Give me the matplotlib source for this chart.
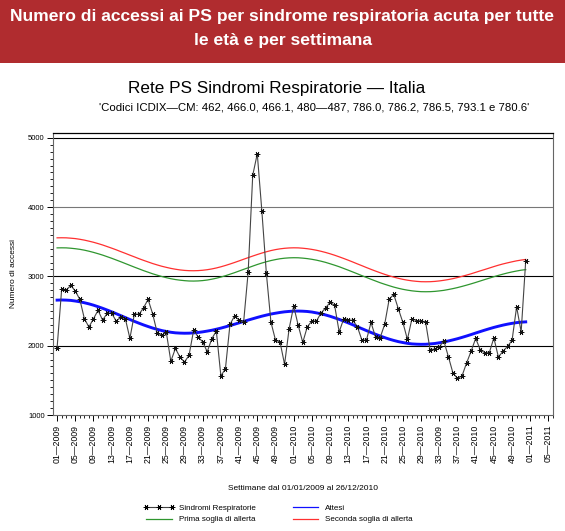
import matplotlib
matplotlib.use("Agg")
import matplotlib.pyplot as plt
from matplotlib.patches import Rectangle
from matplotlib.lines import Line2D
from matplotlib.ticker import MultipleLocator, FixedLocator

plt.rcParams['font.family'] = ['Liberation Sans', 'DejaVu Sans']

# weekly counts, week 01-2009 .. week 52-2010
sindromi = [1971, 2812, 2803, 2870, 2790, 2668, 2389, 2270, 2390, 2510,
            2370, 2466, 2466, 2356, 2413, 2390, 2106, 2461, 2452, 2548,
            2668, 2461, 2188, 2149, 2197, 1775, 1960, 1837, 1764, 1861,
            2221, 2130, 2053, 1913, 2101, 2212, 1563, 1668, 2308, 2428,
            2370, 2341, 3065, 4460, 4770, 3950, 3043, 2341, 2082, 2053,
            1731, 2245, 2572, 2293, 2048, 2274, 2356, 2356, 2470, 2545,
            2625, 2582, 2200, 2389, 2375, 2365, 2274, 2080, 2082, 2336,
            2122, 2115, 2308, 2673, 2740, 2534, 2336, 2091, 2391, 2360,
            2360, 2341, 1935, 1955, 1981, 2070, 1843, 1608, 1528, 1564,
            1750, 1920, 2105, 1945, 1896, 1900, 2113, 1836, 1920, 1990,
            2077, 2561, 2200, 3222]

attesi = [2658, 2660, 2658, 2654, 2645, 2634, 2620, 2604, 2585, 2563,
          2540, 2515, 2489, 2462, 2434, 2406, 2378, 2351, 2325, 2300,
          2277, 2255, 2236, 2219, 2206, 2194, 2186, 2182, 2180, 2181,
          2185, 2191, 2200, 2211, 2223, 2238, 2254, 2272, 2291, 2310,
          2330, 2350, 2370, 2389, 2408, 2426, 2442, 2457, 2469, 2480,
          2489, 2495, 2499, 2500, 2498, 2494, 2486, 2474, 2461, 2444,
          2425, 2403, 2380, 2355, 2329, 2302, 2274, 2246, 2218, 2191,
          2165, 2140, 2117, 2095, 2076, 2059, 2046, 2034, 2026, 2022,
          2020, 2021, 2026, 2032, 2042, 2054, 2068, 2084, 2101, 2120,
          2140, 2161, 2183, 2204, 2225, 2245, 2264, 2281, 2297, 2311,
          2323, 2333, 2340, 2344]

prima_soglia = [3412, 3413, 3412, 3407, 3400, 3391, 3379, 3364, 3347, 3328,
                3308, 3285, 3262, 3237, 3212, 3186, 3160, 3134, 3109, 3084,
                3061, 3038, 3018, 2999, 2982, 2967, 2955, 2946, 2939, 2934,
                2933, 2935, 2940, 2948, 2960, 2974, 2991, 3010, 3032, 3054,
                3078, 3102, 3125, 3149, 3172, 3193, 3212, 3229, 3243, 3255,
                3263, 3268, 3270, 3269, 3264, 3257, 3247, 3235, 3220, 3203,
                3183, 3162, 3140, 3115, 3090, 3064, 3038, 3011, 2985, 2959,
                2934, 2909, 2887, 2866, 2846, 2829, 2814, 2802, 2792, 2785,
                2780, 2779, 2780, 2784, 2791, 2799, 2811, 2824, 2839, 2856,
                2874, 2893, 2913, 2934, 2955, 2975, 2996, 3015, 3033, 3050,
                3065, 3078, 3090, 3098]

seconda_soglia = [3557, 3558, 3557, 3552, 3546, 3536, 3524, 3509, 3493, 3474,
                  3454, 3431, 3408, 3384, 3358, 3333, 3307, 3282, 3256, 3232,
                  3209, 3186, 3166, 3147, 3131, 3116, 3104, 3094, 3087, 3083,
                  3082, 3084, 3089, 3097, 3108, 3122, 3139, 3158, 3179, 3201,
                  3224, 3248, 3271, 3294, 3316, 3337, 3356, 3373, 3387, 3398,
                  3406, 3411, 3413, 3412, 3407, 3400, 3390, 3378, 3363, 3346,
                  3327, 3306, 3283, 3259, 3234, 3208, 3181, 3155, 3128, 3102,
                  3077, 3053, 3030, 3009, 2990, 2973, 2958, 2946, 2936, 2929,
                  2924, 2923, 2924, 2928, 2935, 2944, 2955, 2968, 2984, 3001,
                  3019, 3038, 3059, 3080, 3100, 3121, 3142, 3162, 3180, 3196,
                  3211, 3225, 3236, 3245]

tick_labels = ['01—2009', '05—2009', '09—2009', '13—2009', '17—2009', '21—2009',
               '25—2009', '29—2009', '33—2009', '37—2009', '41—2009', '45—2009',
               '49—2009', '01—2010', '05—2010', '09—2010', '13—2010', '17—2010',
               '21—2010', '25—2010', '29—2010', '33—2009', '37—2010', '41—2010',
               '45—2010', '49—2010', '01—2011', '05—2011']

W, H = 565, 531
fig = plt.figure(figsize=(W / 100, H / 100), dpi=100)

# red header band
fig.patches.append(Rectangle((0, 1 - 63 / H), 1, 63 / H, transform=fig.transFigure,
                             facecolor='#b02c2f', edgecolor='none', zorder=0))
fig.text(0.5, 1 - 17 / H, 'Numero di accessi ai PS per sindrome respiratoria acuta per tutte',
         ha='center', va='center', color='white', fontsize=12.6, fontweight='bold')
fig.text(0.5, 1 - 40 / H, 'le età e per settimana',
         ha='center', va='center', color='white', fontsize=12.6, fontweight='bold')

fig.text(277 / W, 1 - 88 / H, 'Rete PS Sindromi Respiratorie — Italia',
         ha='center', va='center', fontsize=12.3)
fig.text(314 / W, 1 - 107 / H,
         "'Codici ICDIX—CM: 462, 466.0, 466.1, 480—487, 786.0, 786.2, 786.5, 793.1 e 780.6'",
         ha='center', va='center', fontsize=8.2)

ax = fig.add_axes([53 / W, 1 - 415 / H, 500 / W, 282 / H])
weeks = list(range(len(sindromi)))

ax.plot(weeks, prima_soglia, color='#2f962f', lw=0.9, zorder=3)
ax.plot(weeks, seconda_soglia, color='#ff3030', lw=0.9, zorder=3)
ax.plot(weeks, attesi, color='#1010ff', lw=2.1, zorder=4)
ax.plot(weeks, sindromi, color='#444444', lw=0.8, marker=(6, 2, 90),
        markersize=4, markeredgewidth=0.55, markeredgecolor='#111111', zorder=5)

for v, c in [(2000, 'black'), (3000, 'black'), (4000, '#777777'), (5000, 'black')]:
    ax.axhline(v, color=c, lw=0.8, zorder=1)

ax.set_xlim(-0.9, 109)
ax.set_ylim(1000, 5070)
ax.xaxis.set_major_locator(FixedLocator(list(range(0, 109, 4))))
ax.xaxis.set_minor_locator(MultipleLocator(1))
ax.set_xticklabels(tick_labels, rotation=90, fontsize=6.3)
ax.yaxis.set_major_locator(MultipleLocator(1000))
ax.yaxis.set_minor_locator(MultipleLocator(100))
ax.tick_params(axis='y', labelsize=5.5, length=4, width=0.7, pad=2)
ax.tick_params(axis='x', length=4, width=0.7, pad=3)
ax.tick_params(which='minor', length=2, width=0.6)
for s in ['left', 'bottom', 'right']:
    ax.spines[s].set_color('#666666')
    ax.spines[s].set_linewidth(0.8)
ax.spines['top'].set_color('black')
ax.spines['top'].set_linewidth(0.9)

ax.set_ylabel('Numero di accessi', fontsize=6, labelpad=8)
fig.text(303 / W, 1 - 488 / H, 'Settimane dal 01/01/2009 al 26/12/2010',
         ha='center', va='center', fontsize=6)

handles = [
    Line2D([], [], color='#444444', lw=0.8, marker=(6, 2, 90), markersize=4,
           markeredgewidth=0.6, markeredgecolor='black'),
    Line2D([], [], color='#2f962f', lw=0.9),
    Line2D([], [], color='#1010ff', lw=0.9),
    Line2D([], [], color='#ff3030', lw=0.9),
]
labels = ['Sindromi Respiratorie', 'Prima soglia di allerta', 'Attesi',
          'Seconda soglia di allerta']
fig.legend(handles, labels, ncol=2, loc='upper left', frameon=False,
           bbox_to_anchor=(140 / W, 1 - 500 / H), fontsize=5.8,
           handlelength=3.8, handletextpad=0.5, columnspacing=4.3,
           labelspacing=0.5, borderpad=0, numpoints=3)

fig.savefig('out.png', dpi=100)
